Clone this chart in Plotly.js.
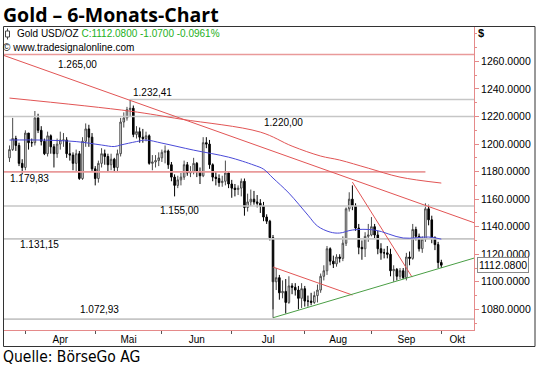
<!DOCTYPE html>
<html><head><meta charset="utf-8">
<script src="https://cdn.plot.ly/plotly-3.0.1.min.js"></script>
<style>html,body{margin:0;padding:0;background:#fff;}#chart{width:540px;height:368px;}</style>
</head><body><div id="chart"></div>
<script>
// Trading days 25 Mar 2015 (index 0) ... 1 Oct 2015 (index 136)
const open = [1190,1196,1204,1199,1186,1183,1208,1201,1201,1219,
1210,1202,1193,1206,1198,1193,1200,1203,1203,1193,
1192,1186,1193,1175,1202,1211,1205,1182,1175,1186,
1193,1191,1185,1189,1183,1193,1216,1219,1225,1226,
1207,1209,1205,1204,1206,1186,1187,1188,1190,1194,
1195,1185,1176,1170,1174,1176,1185,1179,1180,1186,
1180,1177,1201,1200,1185,1176,1175,1172,1173,1179,
1171,1168,1167,1168,1173,1154,1158,1160,1158,1157,
1155,1147,1144,1132,1100,1103,1092,1093,1085,1097,
1096,1094,1088,1095,1086,1086,1085,1090,1094,1104,
1108,1124,1115,1113,1118,1117,1128,1153,1160,1155,
1139,1125,1124,1133,1134,1140,1134,1124,1121,1121,
1120,1108,1109,1104,1108,1103,1118,1117,1138,1133,
1124,1131,1153,1145,1132,1127,1114];
const high = [1199,1219,1206,1201,1189,1210,1208,1204,1224,1222,
1213,1204,1209,1207,1200,1204,1209,1208,1205,1201,
1194,1196,1195,1205,1215,1214,1208,1184,1188,1197,
1196,1193,1193,1190,1196,1219,1223,1227,1232.41,1228,
1213,1212,1211,1209,1207,1192,1192,1194,1196,1199,
1196,1187,1178,1177,1179,1188,1187,1184,1190,1187,
1183,1205,1205,1203,1186,1180,1178,1177,1188,1180,
1174,1171,1170,1175,1175,1164,1167,1166,1163,1160,
1158,1149,1145,1134,1110,1105,1101,1102,1104,1099,
1099,1097,1099,1097,1090,1092,1093,1098,1106,1112,
1126,1125,1119,1120,1120,1133,1154,1165,1170,1157,
1142,1130,1136,1142,1147,1142,1137,1128,1124,1126,
1124,1112,1110,1110,1110,1121,1122,1142,1140,1135,
1133,1157,1156,1148,1133,1129,1116];
const low = [1187,1195,1195,1184,1178,1181,1196,1198,1199,1208,
1199,1192,1191,1193,1183,1190,1196,1198,1190,1188,
1181,1180,1174,1174,1198,1198,1180,1170,1172,1183,
1185,1180,1181,1180,1180,1191,1212,1217,1220,1205,
1204,1201,1201,1202,1185,1181,1183,1184,1187,1186,
1182,1173,1162,1168,1170,1174,1177,1176,1178,1176,
1171,1176,1197,1182,1173,1170,1169,1169,1170,1168,
1161,1162,1163,1162,1148,1151,1155,1156,1154,1150,
1144,1142,1130,1080,1094,1087,1088,1077,1084,1091,
1090,1080,1081,1082,1082,1083,1084,1085,1092,1101,
1105,1112,1110,1111,1114,1115,1126,1151,1152,1137,
1120,1116,1118,1129,1133,1131,1120,1116,1117,1117,
1104,1100,1101,1102,1102,1101,1112,1116,1130,1122,
1121,1129,1141,1128,1123,1110,1110];
const close = [1196,1204,1199,1186,1183,1208,1201,1201,1219,1210,
1202,1193,1206,1198,1193,1200,1203,1203,1193,1192,
1186,1193,1175,1202,1211,1205,1182,1175,1186,1193,
1191,1185,1189,1183,1193,1216,1219,1225,1226,1207,
1209,1205,1204,1206,1186,1187,1188,1190,1194,1195,
1185,1176,1170,1174,1176,1185,1179,1180,1186,1180,
1177,1201,1200,1185,1176,1175,1172,1173,1179,1171,
1168,1167,1168,1173,1154,1158,1160,1158,1157,1155,
1147,1144,1132,1100,1103,1092,1093,1085,1097,1096,
1094,1088,1095,1086,1086,1085,1090,1094,1104,1108,
1124,1115,1113,1118,1117,1128,1153,1160,1155,1139,
1125,1124,1133,1134,1140,1134,1124,1121,1121,1120,
1108,1109,1104,1108,1103,1118,1117,1138,1133,1124,
1131,1153,1145,1132,1127,1114,1112.08];

const monthStartIdx = [5,27,48,70,93,114,136];
const monthLabels = ['Apr','Mai','Jun','Jul','Aug','Sep','Okt'];
const monthLabelIdx = [16,37.5,59,81.5,103.5,125,141];
const priceTicks = [1080,1100,1120,1140,1160,1180,1200,1220,1240,1260];

// blue moving average (sampled)
const maBlueIdx = [0,10,21,29,33,35,40,43,48,58,69,77,80,83,88,94,97,101,104,108,115,124,132,136];
const maBlueVal = [1202.9,1202.9,1201.8,1199.3,1198.2,1199.3,1201.8,1202.9,1200.7,1195.6,1190.5,1184.7,1181.8,1175.3,1164.4,1148.4,1140.5,1136.1,1135.4,1137.6,1137.6,1131.8,1132.5,1131.0];
// red moving average (sampled)
const maRedIdx = [0,38,54,79,89,98,104,113,123,136];
const maRedVal = [1233.4,1223.9,1218.1,1208.7,1198.5,1191.3,1188.4,1182.5,1176.0,1171.7];

// horizontal levels
const levels = [1265, 1232.41, 1220, 1179.83, 1155, 1131.15, 1072.93];
const levelLabels = ['1.265,00','1.232,41','1.220,00','1.179,83','1.155,00','1.131,15','1.072,93'];
const levelFrom = [-1.73, 38, -1.73, -1.73, -1.73, -1.73, -1.73];
const levelTo = [146.3, 146.3, 146.3, 131, 146.3, 146.3, 146.3];
const levelIsRed = [true,false,false,true,false,false,false];

// trend lines (index, price)
const redTrendX = [[-1.73,146.3],[108,126.8],[83,108]];
const redTrendY = [[1264.3,1142.9],[1172.4,1103.4],[1110.7,1090.4]];
const greenTrendX = [83,146.3];
const greenTrendY = [1073.9,1117.2];
const sideX = [83,83];
const sideY = [1073.9,1110.7];

const lastPrice = 1112.08;

// ---- layout helpers (pixel placement of texts) ----
const L=4, R=474, T=27, B=330;
const px2x = px => (px-L)/(R-L);
const py2y = py => (B-py)/(B-T);

const xIdx = open.map((_,i)=>i);
const traces = [];
const gridGray = '#c6c6c6', levelRed = '#e99a9a', lineRed = '#e25555';

levels.forEach((v,i)=>{
  traces.push({type:'scatter',mode:'lines',x:[levelFrom[i],levelTo[i]],y:[v,v],
    line:{color: levelIsRed[i]?levelRed:gridGray,width:1.6},hoverinfo:'skip'});
});
traces.push({type:'scatter',mode:'lines',x:maRedIdx,y:maRedVal,line:{color:lineRed,width:1,shape:'spline'},hoverinfo:'skip'});
redTrendX.forEach((xs,i)=>{
  traces.push({type:'scatter',mode:'lines',x:xs,y:redTrendY[i],line:{color:lineRed,width:1},hoverinfo:'skip'});
});
traces.push({type:'scatter',mode:'lines',x:greenTrendX,y:greenTrendY,line:{color:'#4a9e45',width:1},hoverinfo:'skip'});
traces.push({type:'scatter',mode:'lines',x:sideX,y:sideY,line:{color:'#555',width:1},hoverinfo:'skip'});
traces.push({type:'scatter',mode:'lines',x:maBlueIdx,y:maBlueVal,line:{color:'#4a4ad8',width:1,shape:'spline'},hoverinfo:'skip'});
traces.push({type:'candlestick',x:xIdx,open:open,high:high,low:low,close:close,
  increasing:{line:{color:'#4a4a4a',width:1},fillcolor:'#ffffff'},
  decreasing:{line:{color:'#000000',width:1},fillcolor:'#000000'},
  whiskerwidth:0,hoverinfo:'skip'});
traces.push({type:'scatter',mode:'markers',x:monthLabelIdx,y:monthLabelIdx.map(()=>null),xaxis:'x2',hoverinfo:'skip'});

const fontFam = 'Liberation Sans, Arial, sans-serif';
const annotations = [];
const ann = (text,px,py,opt={}) => annotations.push(Object.assign({text:text,xref:'paper',yref:'paper',
  x:px2x(px),y:py2y(py),xanchor:'left',yanchor:'middle',showarrow:false,
  font:{family:fontFam,size:10,color:'#000'}},opt));

ann('<b>Gold – 6-Monats-Chart</b>',1,14,{font:{family:'Open Sans, sans-serif',size:19.5,color:'#000'}});
ann('Quelle: BörseGo AG',1,357,{font:{family:'Liberation Sans Narrow, DejaVu Sans Condensed, sans-serif',size:15.5,color:'#000'}});
ann('Gold USD/OZ <span style="color:#22b022">C:1112.0800 -1.0700 -0.0961%</span>',15,34);
ann('© www.tradesignalonline.com',1,48);
ann('<b>$</b>',476,33,{font:{family:fontFam,size:11,color:'#000'}});
const labelPos = [[56,64],[131,92],[262,122.5],[8,178],[158,210],[18,244],[78,309]];
levelLabels.forEach((t,i)=>ann(t,labelPos[i][0],labelPos[i][1]));
annotations.push({text:'1112.0800',xref:'paper',yref:'y',x:px2x(477),y:lastPrice,xanchor:'left',yanchor:'middle',
  showarrow:false,font:{family:fontFam,size:10.5,color:'#000'},bordercolor:'#8a8a8a',borderwidth:1,borderpad:1,bgcolor:'#fff'});

const shapes = [
  {type:'rect',xref:'paper',yref:'paper',x0:px2x(3.5),x1:px2x(535),y0:py2y(346.5),y1:py2y(26.5),line:{color:'#333',width:1}},
  {type:'rect',xref:'paper',yref:'paper',x0:px2x(5.5),x1:px2x(9.5),y0:py2y(37),y1:py2y(31),line:{color:'#444',width:1},fillcolor:'#fff'},
  {type:'line',xref:'paper',yref:'paper',x0:px2x(7.5),x1:px2x(7.5),y0:py2y(39.5),y1:py2y(37),line:{color:'#444',width:1}},
  {type:'line',xref:'paper',yref:'paper',x0:px2x(7.5),x1:px2x(7.5),y0:py2y(31),y1:py2y(28.5),line:{color:'#444',width:1}}
];

const xr = [-1.73,146.3];
const layout = {
  width:540,height:368,margin:{l:L,r:540-R,t:T,b:368-B},
  paper_bgcolor:'#fff',plot_bgcolor:'#fff',showlegend:false,hovermode:false,
  font:{family:fontFam,size:10,color:'#000'},
  xaxis:{range:xr,rangeslider:{visible:false},tickvals:monthStartIdx,ticktext:monthStartIdx.map(()=>''),
    ticks:'outside',ticklen:3,tickcolor:'#555',showline:true,linecolor:'#e58a8a',linewidth:1,
    showgrid:false,zeroline:false,fixedrange:true},
  xaxis2:{range:xr,overlaying:'x',anchor:'y',side:'bottom',tickvals:monthLabelIdx,ticktext:monthLabels,
    ticks:'',ticklabelstandoff:2,showline:false,showgrid:false,zeroline:false,tickfont:{family:fontFam,size:10,color:'#000'},fixedrange:true},
  yaxis:{side:'right',range:[1065,1285],tickvals:priceTicks,tickformat:'.4f',ticks:'outside',ticklen:4,
    tickcolor:'#e58a8a',showline:true,linecolor:'#e58a8a',linewidth:1,showgrid:false,zeroline:false,
    tickfont:{family:fontFam,size:10.5,color:'#000'},
    minor:{dtick:10,ticks:'outside',ticklen:2,tickcolor:'#e58a8a'},fixedrange:true},
  annotations:annotations,shapes:shapes
};
Plotly.newPlot('chart',traces,layout,{staticPlot:true,displayModeBar:false});
</script></body></html>
